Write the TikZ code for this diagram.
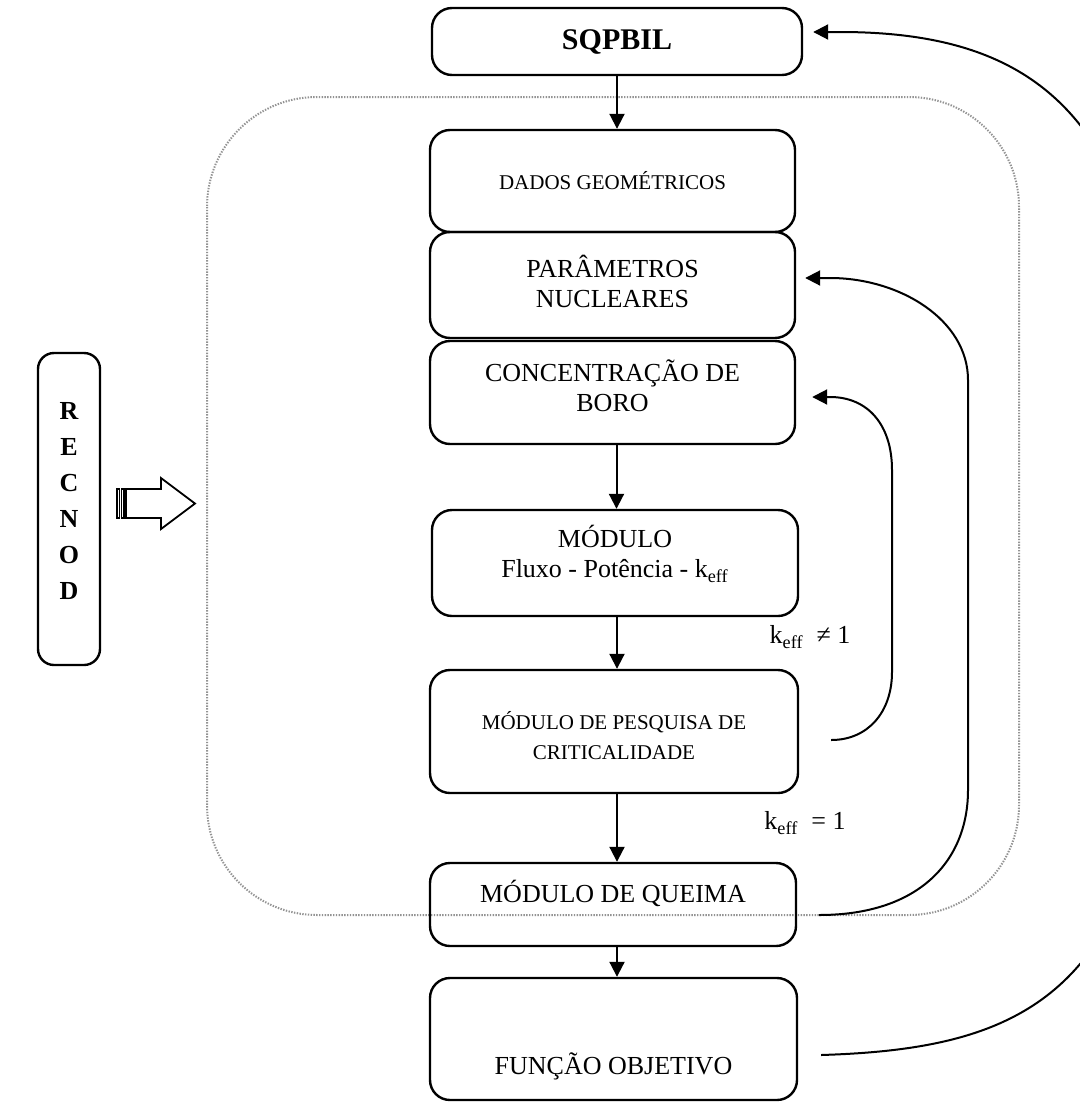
\documentclass[tikz,border=0pt]{standalone}
\usepackage{fontspec}
\setmainfont{Liberation Serif}
\usetikzlibrary{arrows.meta}
\begin{document}
\begin{tikzpicture}[x=0.5pt,y=-0.5pt,
  box/.style={draw, line width=1.2pt, rounded corners=10pt, minimum width=183pt, inner sep=0pt},
  big/.style={font=\fontsize{13}{15}\selectfont, align=center},
  small/.style={font=\fontsize{10.5}{15}\selectfont, align=center},
  arr/.style={line width=1pt, -{Triangle[length=7.5pt,width=7.5pt]}}]
\useasboundingbox (0,0) rectangle (1080,1108);
\clip (0,0) rectangle (1080,1108);

\draw [gray!85, dash pattern=on 0.7pt off 0.7pt, line width=1pt, rounded corners=55pt] (207,97) rectangle (1019,915);

\node [box, minimum width=185pt, minimum height=33.5pt, font=\bfseries\fontsize{15}{18}\selectfont] (sqpbil) at (617,41.5) {SQPBIL};
\node [box, minimum width=182.5pt, minimum height=51pt, small] (dados) at (612.5,181) {DADOS GEOMÉTRICOS};
\node [box, minimum width=182.5pt, minimum height=53pt] (param) at (612.5,285) {};
\node [box, minimum width=182.5pt, minimum height=51.5pt] (boro) at (612.5,392.5) {};
\node [box, minimum height=53pt] (fluxo) at (615,563) {};
\node [box, minimum width=184pt, minimum height=61.5pt] (pesq) at (614,731.5) {};
\node [box, minimum height=41.5pt] (queima) at (613,904.5) {};
\node [box, minimum width=183.5pt, minimum height=61pt] (funcao) at (613.5,1039) {};
\node [box, rounded corners=8pt, minimum width=31pt, minimum height=156pt] (recnod) at (69,509) {};

\node [big] (paramtxt) at (612.5,281) {PARÂMETROS\\NUCLEARES};
\node [big] (borotxt) at (612.5,386) {CONCENTRAÇÃO DE\\BORO};
\node [big] (fluxotxt) at (615,554) {MÓDULO\\Fluxo - Potência - k\textsubscript{eff}};
\node [small] (pesqtxt) at (614,736) {MÓDULO DE PESQUISA DE\\CRITICALIDADE};
\node [big] (queimatxt) at (613,893) {MÓDULO DE QUEIMA};
\node [big] (funcaotxt) at (613.5,1066) {FUNÇÃO OBJETIVO};
\node [font=\bfseries\fontsize{13}{18}\selectfont, align=center] (recnodtxt) at (69,501) {R\\E\\C\\N\\O\\D};
\node [big] (kdiff) at (810,637) {k\textsubscript{eff}\enspace≠ 1};
\node [big] (kone) at (805,823) {k\textsubscript{eff}\enspace= 1};

\draw [arr] (sqpbil.south) -- (sqpbil.south |- dados.north);
\draw [arr] ([xshift=2pt]boro.south) -- ([xshift=2pt]boro.south |- fluxo.north);
\draw [arr] ([xshift=1pt]fluxo.south) -- ([xshift=1pt]fluxo.south |- pesq.north);
\draw [arr] ([xshift=1.5pt]pesq.south) -- ([xshift=1.5pt]pesq.south |- queima.north);
\draw [arr] ([xshift=2pt]queima.south) -- ([xshift=2pt]queima.south |- funcao.north);

\draw [arr] ([xshift=16pt,yshift=-4.25pt]pesq.east) .. controls (868,740) and (892,712) .. (892,672)
   -- (892,470) .. controls (892,425) and (868,397) .. (830,397) -- ([xshift=8pt,yshift=-2.25pt]boro.east);
\draw [arr] ([xshift=11pt,yshift=-5.25pt]queima.east) .. controls (920,915) and (968,860) .. (968,790)
   -- (968,380) .. controls (968,320) and (900,278) .. (830,278) -- ([xshift=4.5pt,yshift=3.5pt]param.east);
\draw [arr] ([xshift=11.5pt,yshift=-8pt]funcao.east) .. controls (1050,1048) and (1170,980) .. (1170,560)
   .. controls (1170,160) and (1080,32) .. (840,32) -- ([xshift=5pt,yshift=4.75pt]sqpbil.east);

\draw [line width=0.9pt] (126,489) -- (161,489) -- (161,478) -- (195,503.5) -- (161,529) -- (161,518) -- (126,518) -- cycle;
\draw [line width=0.9pt] (117,489) rectangle (119.5,518);
\draw [line width=0.9pt] (121.5,489) rectangle (124,518);
\end{tikzpicture}
\end{document}
